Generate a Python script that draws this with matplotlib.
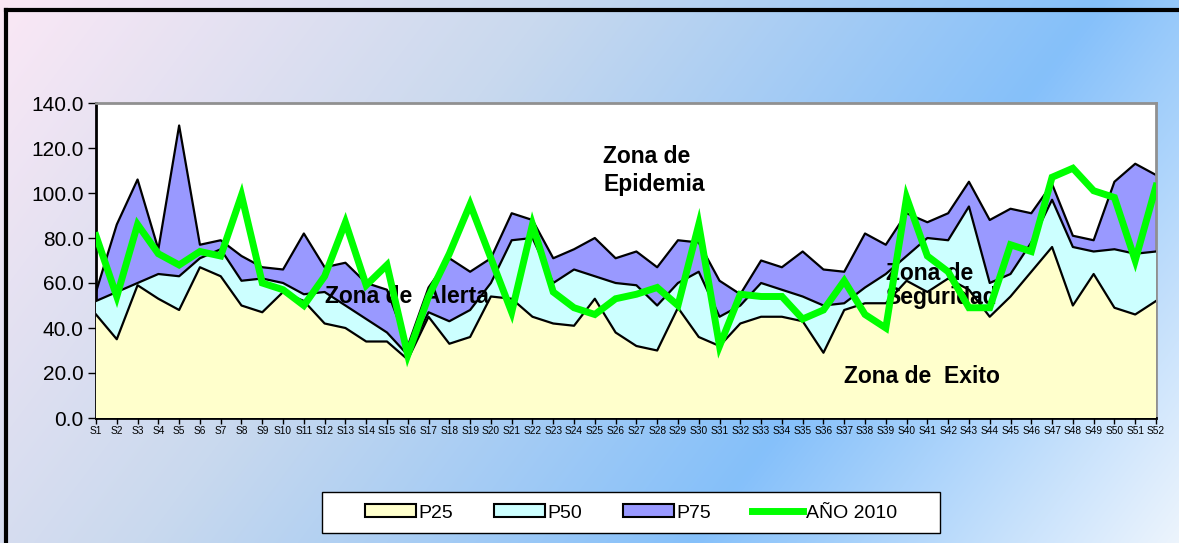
import numpy as np
import matplotlib
matplotlib.use("Agg")
import matplotlib.pyplot as plt
from matplotlib.patches import Rectangle, Patch
from matplotlib.lines import Line2D
from matplotlib.colors import to_rgb

plt.rcParams['font.family'] = ['Liberation Sans', 'DejaVu Sans']

# semanas epidemiologicas
semanas = ["S%d" % i for i in range(1, 53)]

p25 = [46, 35, 59, 53, 48, 67, 63, 50, 47, 56, 52, 42, 40, 34, 34, 26, 45, 33, 36, 54,
       53, 45, 42, 41, 53, 38, 32, 30, 49, 36, 32, 42, 45, 45, 43, 29, 48, 51, 51, 61,
       56, 62, 57, 45, 54, 65, 76, 50, 64, 49, 46, 52]
p50 = [52, 56, 60, 64, 63, 71, 75, 61, 62, 60, 55, 56, 50, 44, 38, 28, 47, 43, 48, 60,
       79, 80, 60, 66, 63, 60, 59, 50, 60, 65, 45, 50, 60, 57, 54, 50, 51, 58, 64, 72,
       80, 79, 94, 60, 64, 78, 97, 76, 74, 75, 73, 74]
p75 = [56, 86, 106, 75, 130, 77, 79, 72, 67, 66, 82, 67, 69, 60, 57, 32, 58, 71, 65, 71,
       91, 88, 71, 75, 80, 71, 74, 67, 79, 78, 61, 55, 70, 67, 74, 66, 65, 82, 77, 91,
       87, 91, 105, 88, 93, 91, 104, 81, 79, 105, 113, 108]
anio_2010 = [81, 54, 86, 73, 68, 74, 72, 99, 60, 57, 50, 63, 87, 59, 68, 28, 54, 73, 95, 71,
             47, 86, 56, 49, 46, 53, 55, 58, 50, 86, 32, 55, 54, 54, 44, 48, 61, 46, 40, 98,
             72, 65, 49, 49, 77, 74, 107, 111, 101, 98, 70, 103]

W, H = 1179, 543
fig = plt.figure(figsize=(W / 100, H / 100), dpi=100)

# fondo degradado diagonal
bg = fig.add_axes([0, 0, 1, 1], zorder=-10)
yy, xx = np.mgrid[0:H, 0:W]
t = xx + 0.75 * yy
stops = [0, 550, 1100, 1600]
cols = [to_rgb(c) for c in ["#fbe8f5", "#c9d9ee", "#85c0fa", "#f0f6fd"]]
img = np.zeros((H, W, 3))
for k in range(3):
    img[..., k] = np.interp(t, stops, [c[k] for c in cols])
bg.imshow(img, aspect='auto', extent=[0, W, H, 0])
bg.set_xlim(0, W)
bg.set_ylim(H, 0)
bg.axis('off')
# marco negro
bg.plot([6, W], [10, 10], color='black', lw=3)
bg.plot([6, 6], [10, H], color='black', lw=3)

ax = fig.add_axes([96 / W, 125 / H, 1060 / W, 315 / H])
ax.set_facecolor('white')
x = np.arange(len(semanas))

ax.fill_between(x, 0, p75, facecolor='#9999ff', edgecolor='none', zorder=1)
ax.plot(x, p75, color='black', lw=1.6, zorder=2)
ax.fill_between(x, 0, p50, facecolor='#ccffff', edgecolor='none', zorder=3)
ax.plot(x, p50, color='black', lw=1.6, zorder=4)
ax.fill_between(x, 0, p25, facecolor='#ffffcc', edgecolor='none', zorder=5)
ax.plot(x, p25, color='black', lw=1.6, zorder=6)

kw = dict(fontsize=16.5, fontweight='bold', color='black', zorder=7)
ax.text(24.4, 121.5, "Zona de\nEpidemia", ha='left', va='top', linespacing=1.3, **kw)
ax.text(11.0, 54.2, "Zona de  Alerta", ha='left', va='center', **kw)
ax.text(38.0, 58.8, "Zona de\nSeguridad", ha='left', va='center', linespacing=1.05, **kw)
ax.text(36.0, 18.6, "Zona de  Exito", ha='left', va='center', **kw)

ax.plot(x, anio_2010, color='#00ff00', lw=5, solid_joinstyle='miter', zorder=8)

ax.set_xlim(0, len(semanas) - 1)
ax.set_ylim(0, 140)
ax.set_yticks(np.arange(0, 141, 20))
ax.set_yticklabels(["%.1f" % v for v in np.arange(0, 141, 20)], fontsize=15)
ax.set_xticks(x)
ax.set_xticklabels(semanas, fontsize=7.3)
ax.tick_params(axis='y', direction='out', length=6, width=1, pad=3)
ax.tick_params(axis='x', direction='out', length=4, width=1, pad=2)
for s in ['left', 'bottom']:
    ax.spines[s].set_linewidth(2)
    ax.spines[s].set_color('black')
for s in ['top', 'right']:
    ax.spines[s].set_linewidth(2)
    ax.spines[s].set_color('#909090')

# leyenda
fig.add_artist(Rectangle((322 / W, 1 - 533 / H), 618 / W, 41 / H, transform=fig.transFigure,
                         facecolor='white', edgecolor='black', lw=1))
handles = [Patch(facecolor='#ffffcc', edgecolor='black', lw=1.5),
           Patch(facecolor='#ccffff', edgecolor='black', lw=1.5),
           Patch(facecolor='#9999ff', edgecolor='black', lw=1.5),
           Line2D([], [], color='#00ff00', lw=5)]
fig.legend(handles, ["P25", "P50", "P75", "AÑO 2010"], loc='center',
           bbox_to_anchor=(631 / W, 1 - 513 / H), ncol=4, frameon=False,
           fontsize=14, handlelength=2.6, handletextpad=0.15, columnspacing=2.1,
           handleheight=0.65)

fig.savefig("out.png", dpi=100)
